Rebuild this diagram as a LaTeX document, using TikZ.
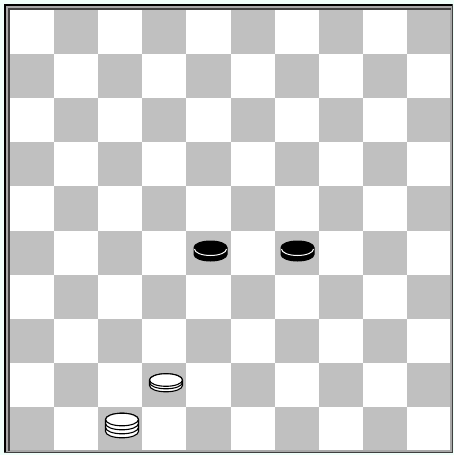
\documentclass[tikz,border=0pt]{standalone}
\definecolor{bgc}{RGB}{240,255,250}
\definecolor{sqgray}{RGB}{192,192,192}
\definecolor{framegray}{RGB}{168,168,168}
\definecolor{darkline}{RGB}{64,64,64}
\newcommand{\mypiece}[5]{%
  \filldraw[fill=#4,draw=black,line width=1.1pt] (#1-16.5,#2) -- ++(0,#3)
    arc[start angle=180,end angle=360,x radius=16.5pt,y radius=6.3pt]
    -- (#1+16.5,#2) arc[start angle=0,end angle=180,x radius=16.5pt,y radius=6.3pt] -- cycle;
  \draw[line width=1.1pt,fill=#4] (#1,#2) ellipse[x radius=16.5pt,y radius=6.3pt];
  \foreach \o in {#5} {\draw[line width=1.1pt] (#1-16.5,#2+\o) arc[start angle=180,end angle=360,x radius=16.5pt,y radius=6.3pt];}
}
\newcommand{\blackpiece}[2]{%
  \filldraw[fill=black,draw=black,line width=1pt] (#1-16.5,#2) -- ++(0,7)
    arc[start angle=180,end angle=360,x radius=16.5pt,y radius=6.5pt]
    -- (#1+16.5,#2) arc[start angle=0,end angle=180,x radius=16.5pt,y radius=6.5pt] -- cycle;
  \draw[white,line width=1pt] (#1-16,#2+1.5) arc[start angle=180,end angle=360,x radius=16pt,y radius=6.5pt];
}
\begin{document}
\begin{tikzpicture}[x=1pt,y=-1pt]
\useasboundingbox (0,0) rectangle (454,455);
\fill[bgc] (0,0) rectangle (454,455);
% frame
\fill[framegray] (4,4) rectangle (453,453);
\draw[black,line width=1.5pt] (4.75,453) -- (4.75,4.75) -- (453,4.75);
\draw[darkline,line width=1.2pt] (452.4,4) -- (452.4,452.4) -- (4,452.4);
\draw[darkline,line width=1.5pt] (8.75,451) -- (8.75,8.75) -- (451,8.75);
% board
\fill[white] (10,10) rectangle (451,451);
\foreach \r in {0,...,9} {
  \foreach \c in {0,...,9} {
    \pgfmathtruncatemacro{\sqpar}{mod(\r+\c,2)}
    \ifnum\sqpar=1
      \fill[sqgray] (10+44.1*\c,10+44.1*\r) rectangle ++(44.1,44.1);
    \fi
  }
}
\draw[framegray,line width=1pt] (450.5,10) -- (450.5,450.5) -- (10,450.5);
% pieces
\blackpiece{210.5}{247.5}
\blackpiece{297.5}{247.5}
\mypiece{166}{380}{5.5}{white}{2.5}
\mypiece{122}{419.5}{12}{white}{4,8}
\end{tikzpicture}
\end{document}
